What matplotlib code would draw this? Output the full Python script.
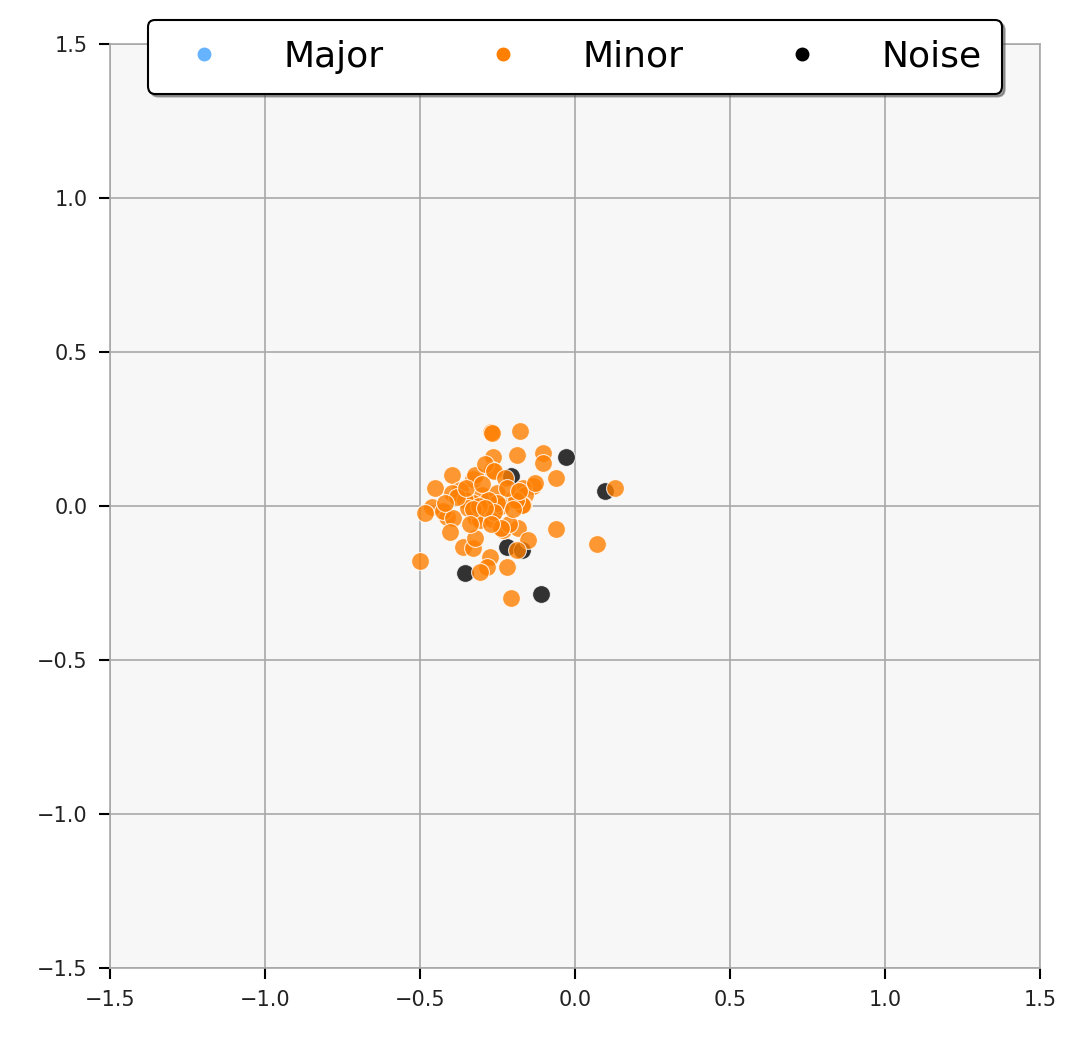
import matplotlib
matplotlib.use("Agg")
import matplotlib.pyplot as plt
from matplotlib.lines import Line2D

# --------------------------------------------------
# Data
# --------------------------------------------------
minor_x = [-0.271, -0.266, -0.177, -0.263, -0.188, -0.102, -0.102, -0.061,
           -0.398, -0.452, -0.328, -0.323, -0.269, -0.290, -0.262, -0.226,
           -0.134, -0.167, -0.161, -0.129, -0.371, -0.398, -0.301, -0.253,
           -0.204, -0.167, -0.328, -0.323, -0.355, -0.462, -0.484, -0.414,
           -0.425, -0.393, -0.345, -0.306, -0.269, -0.240, -0.231, -0.183,
           -0.151, -0.061, 0.070, 0.129, -0.403, -0.360, -0.328, -0.323,
           -0.274, -0.285, -0.306, -0.218, -0.188, -0.500, -0.206, -0.170,
           -0.214, -0.250, -0.280, -0.380, -0.350, -0.300, -0.190, -0.260,
           -0.240, -0.310, -0.330, -0.290, -0.420, -0.200, -0.270, -0.340,
           -0.220, -0.180]
minor_y = [0.241, 0.236, 0.245, 0.160, 0.166, 0.173, 0.141, 0.090,
           0.101, 0.060, 0.087, 0.101, 0.117, 0.135, 0.112, 0.090,
           0.065, 0.057, 0.036, 0.074, 0.052, 0.041, 0.036, 0.041,
           0.019, 0.003, 0.009, -0.035, 0.020, -0.002, -0.024, -0.035,
           -0.015, -0.040, -0.005, -0.045, -0.042, 0.000, -0.078, -0.073,
           -0.110, -0.076, -0.123, 0.057, -0.083, -0.132, -0.137, -0.105,
           -0.165, -0.197, -0.213, -0.197, -0.143, -0.177, -0.300, 0.003,
           -0.060, 0.010, 0.020, 0.030, 0.060, 0.070, 0.020, -0.020,
           -0.070, 0.000, -0.010, -0.005, 0.010, -0.010, -0.060, -0.060,
           0.060, 0.050]

noise_x = [-0.030, -0.207, 0.097, -0.220, -0.170, -0.355, -0.111]
noise_y = [0.159, 0.098, 0.049, -0.132, -0.143, -0.218, -0.287]

major_x = []
major_y = []

labels = ["Major", "Minor", "Noise"]
colors = ["#66b3ff", "#ff7f00", "#000000"]
ticks = [-1.5, -1.0, -0.5, 0.0, 0.5, 1.0, 1.5]

# --------------------------------------------------
# Plot
# --------------------------------------------------
fig = plt.figure(figsize=(10.77, 10.5), dpi=100)
ax = fig.add_axes([0.1021, 0.0781, 0.8635, 0.8800])
ax.set_facecolor("#f7f7f7")

ax.scatter(noise_x, noise_y, s=165, c=colors[2], alpha=0.8,
           edgecolors="white", linewidths=0.8, zorder=3)
ax.scatter(minor_x, minor_y, s=165, c=colors[1], alpha=0.8,
           edgecolors="white", linewidths=0.8, zorder=3)

ax.set_xlim(-1.5, 1.5)
ax.set_ylim(-1.5, 1.5)
ax.set_xticks(ticks)
ax.set_yticks(ticks)
ax.grid(True, color="#a8a8a8", linewidth=1.2)
ax.set_axisbelow(True)
for sp in ax.spines.values():
    sp.set_color("#a8a8a8")
    sp.set_linewidth(1.2)
ax.tick_params(direction="out", length=8, width=1.5, color="black",
               labelsize=15, pad=8, labelcolor="#222222")

handles = [Line2D([], [], marker="o", linestyle="", markersize=9,
                  color=c) for c in colors]
leg = ax.legend(handles, labels, loc="upper center",
                bbox_to_anchor=(0.5, 1.026), borderaxespad=0, ncol=3,
                fontsize=26, frameon=True, fancybox=True, shadow=True,
                framealpha=1, edgecolor="black", handletextpad=1.2,
                columnspacing=2.3, borderpad=0.55, handlelength=2.0)
leg.get_frame().set_linewidth(1.5)

fig.savefig("out.png", dpi=100)
